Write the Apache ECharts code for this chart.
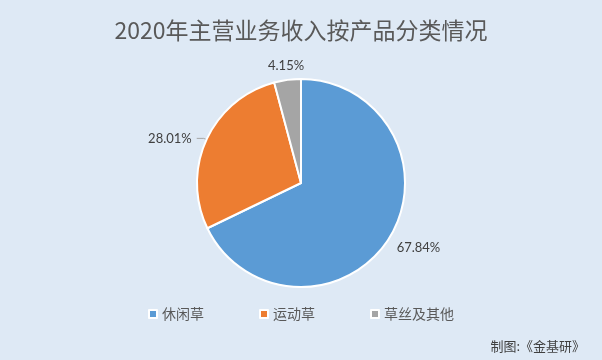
<!DOCTYPE html>
<html><head><meta charset="utf-8">
<script src="https://cdn.jsdelivr.net/npm/echarts@6/dist/echarts.min.js"></script>
<style>html,body{margin:0;padding:0;background:#fff}#c{width:602px;height:360px}</style>
</head><body><div id="c"></div>
<script>
const categories = ['休闲草', '运动草', '草丝及其他'];
const values = [67.84, 28.01, 4.15];
const colors = ['#5b9bd5', '#ed7d31', '#a5a5a5'];
const titleText = '2020年主营业务收入按产品分类情况';
const sourceText = '制图:《金基研》';
// label nudges (dx, dy) per slice
const labelNudge = [[-7, 8], [0, 0], [29, -11]];

const chart = echarts.init(document.getElementById('c'));
const data = categories.map((n, i) => ({
  name: n, value: values[i],
  itemStyle: { color: colors[i] },
  labelLine: { show: i === 1 }
}));
chart.setOption({
  backgroundColor: '#dee9f5',
  title: [{
    text: titleText, left: 'center', top: 14,
    textStyle: { fontFamily: 'Noto Sans CJK SC', fontSize: 23, fontWeight: 'normal', color: '#595959' }
  }, {
    text: sourceText, right: 12, bottom: 2,
    textStyle: { fontFamily: 'Noto Sans CJK SC', fontSize: 13, fontWeight: 'normal', color: '#404040' }
  }],
  legend: {
    bottom: 34, left: 'center', itemWidth: 8, itemHeight: 8, itemGap: 55,
    icon: 'rect',
    itemStyle: { borderColor: '#fff', borderWidth: 2 },
    textStyle: { fontFamily: 'Noto Sans CJK SC', fontSize: 14, color: '#595959' },
    data: categories
  },
  series: [{
    type: 'pie',
    center: [301, 183], radius: 104,
    startAngle: 90, clockwise: true,
    itemStyle: { borderColor: '#fff', borderWidth: 2 },
    label: {
      show: true, position: 'outside',
      formatter: p => p.value.toFixed(2) + '%',
      fontFamily: 'Lato', fontSize: 13, color: '#404040'
    },
    labelLine: { length: 3, length2: 7, lineStyle: { color: '#a6a6a6', width: 1 } },
    labelLayout: p => ({ dx: labelNudge[p.dataIndex][0], dy: labelNudge[p.dataIndex][1] }),
    emphasis: { disabled: true },
    animation: false,
    data: data
  }]
});
</script></body></html>
